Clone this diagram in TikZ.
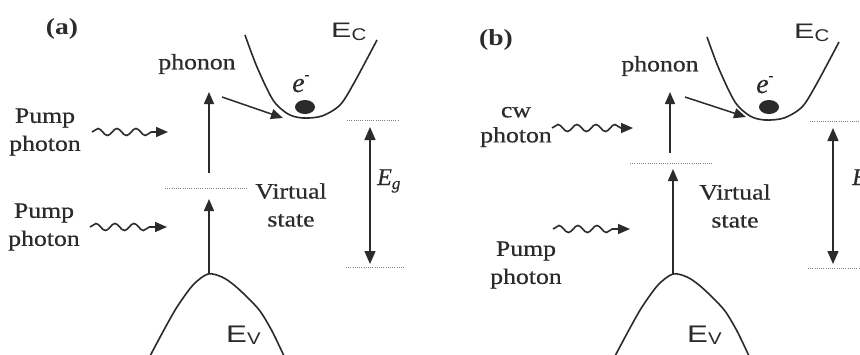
\documentclass[tikz,border=0pt]{standalone}
\usepackage{fontspec}
\setmainfont{Liberation Serif}[UprightFeatures={FakeBold=0.5},ItalicFeatures={FakeBold=0.4}]
\setsansfont{Liberation Sans}
\usetikzlibrary{arrows.meta,decorations.pathmorphing}
\definecolor{ink}{gray}{0.17}
\newcommand{\xw}[1]{\scalebox{1.17}[1]{#1}}
\newcommand{\ecsym}[1]{{\fontsize{21}{21}\selectfont\scalebox{1.45}[1]{E}\raisebox{-3pt}{\fontsize{17}{17}\selectfont\scalebox{1.2}[1]{#1}}}}
\newcommand{\evsym}[1]{{\fontsize{24}{24}\selectfont\scalebox{1.3}[1]{E}\raisebox{-2pt}{\fontsize{17}{17}\selectfont\scalebox{1.2}[1]{#1}}}}
\tikzset{
  lbl/.style={inner sep=0pt, text=ink, font=\fontsize{22}{28}\selectfont, align=center},
  ttl/.style={inner sep=0pt, text=ink, font=\bfseries\fontsize{23}{28}\selectfont},
  band/.style={draw=ink, line width=1.6pt},
  arr/.style={draw=ink, line width=1.5pt, -{Triangle[length=12pt,width=10pt]}},
  dbl/.style={draw=ink, line width=1.5pt, {Triangle[length=13pt,width=11pt]}-{Triangle[length=13pt,width=11pt]}},
  wave/.style={draw=ink, line width=1.6pt, -{Triangle[length=12pt,width=10pt]},
    decorate, decoration={snake, segment length=19pt, amplitude=3.5pt, post length=9pt}},
  lev/.style={draw=gray, line width=1pt, dash pattern=on 1pt off 1.2pt},
  dot/.style={fill=ink, draw=none}
}
\begin{document}
\begin{tikzpicture}[x=1pt,y=-1pt]
\clip (0,0) rectangle (860,354);
\fill[white] (0,0) rectangle (860,354);

% ---------------- panel (a) ----------------
\node[ttl] (ta) at (62,29) {\scalebox{1.2}[1]{(a)}};
\node[inner sep=0pt, text=ink, font=\sffamily, anchor=base west] (eca) at (331,37) {\ecsym{C}};
\draw[band] plot[smooth] coordinates {(245,35) (257,67) (273,100) (288,114) (303,118) (322,116) (340,105) (354,83) (377,40)};
\node[lbl] (phA) at (197,64) {\xw{phonon}};
\node[inner sep=0pt, text=ink, anchor=base west] (ea) at (292,92) {\fontsize{28}{28}\selectfont\textit{e}\raisebox{13pt}{\fontsize{14}{14}\selectfont -}};
\path[dot] (305,107) ellipse [x radius=10, y radius=7];
\node[lbl] (pp1a) at (45,132) {\xw{Pump}\\\xw{photon}};
\node[lbl] (pp2a) at (44,227) {\xw{Pump}\\\xw{photon}};
\node[lbl] (vsa) at (291,205) {\xw{Virtual}\\\xw{state}};
\node[inner sep=0pt, text=ink, anchor=base west] (ega) at (377,185) {\fontsize{24}{24}\selectfont\textit{E}\raisebox{-4pt}{\fontsize{17}{17}\selectfont\textit{g}}};
\node[inner sep=0pt, text=ink, font=\sffamily, anchor=base west] (eva) at (226,342) {\evsym{V}};
\draw[band] plot[smooth] coordinates {(150,356) (165,328) (177,307) (193,285) (208,274) (222,277) (234,285) (247,297) (260,311) (272,331) (284,356)};

\coordinate (w1sA) at (92,132); \coordinate (w1eA) at (168,132);
\coordinate (w2sA) at (90,227); \coordinate (w2eA) at (167,227);
\draw[wave] (w1sA) -- (w1eA);
\draw[wave] (w2sA) -- (w2eA);
\coordinate (u1A) at (209,173); \coordinate (u2A) at (209,92);
\coordinate (l1A) at (209,274); \coordinate (l2A) at (209,199);
\draw[arr] (u1A) -- (u2A);
\draw[arr] (l1A) -- (l2A);
\coordinate (p1A) at (222,97); \coordinate (p2A) at (283,118);
\draw[arr] (p1A) -- (p2A);
\coordinate (v1A) at (165,188); \coordinate (v2A) at (248,188);
\draw[lev] (v1A) -- (v2A);
\coordinate (g1A) at (347,120); \coordinate (g2A) at (399,120);
\coordinate (g3A) at (346,267); \coordinate (g4A) at (405,267);
\draw[lev] (g1A) -- (g2A);
\draw[lev] (g3A) -- (g4A);
\coordinate (gtA) at (370,127); \coordinate (gbA) at (370,264);
\draw[dbl] (gbA) -- (gtA);

% ---------------- panel (b) ----------------
\node[ttl] (tb) at (496,40) {\scalebox{1.2}[1]{(b)}};
\node[inner sep=0pt, text=ink, font=\sffamily, anchor=base west] (ecb) at (794,38) {\ecsym{C}};
\draw[band] plot[smooth] coordinates {(707,37) (719,69) (735,102) (750,116) (765,120) (784,118) (802,107) (816,85) (839,42)};
\node[lbl] (phB) at (660,66) {\xw{phonon}};
\node[inner sep=0pt, text=ink, anchor=base west] (eb) at (756,93) {\fontsize{28}{28}\selectfont\textit{e}\raisebox{13pt}{\fontsize{14}{14}\selectfont -}};
\path[dot] (769,107) ellipse [x radius=10, y radius=7];
\node[lbl, font=\fontsize{22}{25}\selectfont] (cwb) at (516,127) {\xw{cw}\\\xw{photon}};
\node[lbl] (ppb) at (526,265) {\xw{Pump}\\\xw{photon}};
\node[lbl] (vsb) at (735,206) {\xw{Virtual}\\\xw{state}};
\node[inner sep=0pt, text=ink, anchor=base west] (egb) at (852,185) {\fontsize{24}{24}\selectfont\textit{E}\raisebox{-4pt}{\fontsize{17}{17}\selectfont\textit{g}}};
\node[inner sep=0pt, text=ink, font=\sffamily, anchor=base west] (evb) at (687,342) {\evsym{V}};
\draw[band] plot[smooth] coordinates {(615,356) (630,328) (642,307) (658,285) (673,274) (687,277) (699,285) (712,297) (725,311) (737,331) (749,356)};

\coordinate (w1sB) at (552,128); \coordinate (w1eB) at (633,128);
\coordinate (w2sB) at (553,229); \coordinate (w2eB) at (630,229);
\draw[wave] (w1sB) -- (w1eB);
\draw[wave] (w2sB) -- (w2eB);
\coordinate (u1B) at (670,153); \coordinate (u2B) at (670,92);
\coordinate (l1B) at (673,274); \coordinate (l2B) at (673,169);
\draw[arr] (u1B) -- (u2B);
\draw[arr] (l1B) -- (l2B);
\coordinate (p1B) at (685,97); \coordinate (p2B) at (746,117);
\draw[arr] (p1B) -- (p2B);
\coordinate (v1B) at (630,163); \coordinate (v2B) at (712,163);
\draw[lev] (v1B) -- (v2B);
\coordinate (g1B) at (810,121); \coordinate (g2B) at (862,121);
\coordinate (g3B) at (808,268); \coordinate (g4B) at (862,268);
\draw[lev] (g1B) -- (g2B);
\draw[lev] (g3B) -- (g4B);
\coordinate (gtB) at (833,128); \coordinate (gbB) at (833,264);
\draw[dbl] (gbB) -- (gtB);
\end{tikzpicture}
\end{document}
